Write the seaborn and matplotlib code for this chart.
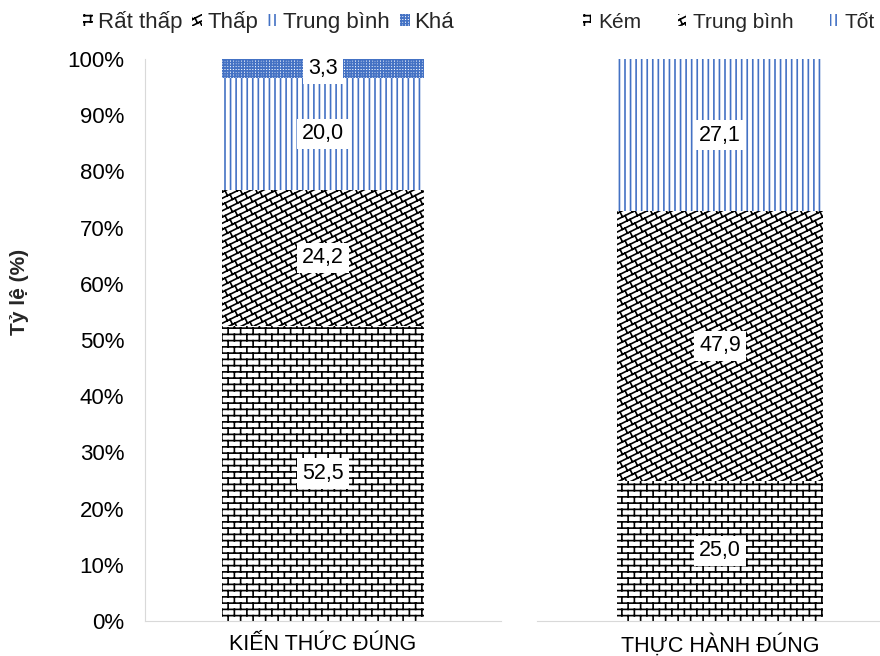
import warnings
warnings.filterwarnings('ignore')
import numpy as np
import pandas as pd
import matplotlib
matplotlib.use('Agg')
import matplotlib.pyplot as plt
import matplotlib.hatch as mhatch
from matplotlib.path import Path
from matplotlib.patches import Patch
from matplotlib.ticker import FixedLocator
import seaborn as sns

# ---------------- data ----------------
left_category = ["KIẾN THỨC ĐÚNG"]
left_levels = ["Rất thấp", "Thấp", "Trung bình", "Khá"]
left_values = [52.5, 24.2, 20.0, 3.3]

right_category = ["THỰC HÀNH ĐÚNG"]
right_levels = ["Kém", "Trung bình", "Tốt"]
right_values = [25.0, 47.9, 27.1]

y_ticks = [0, 10, 20, 30, 40, 50, 60, 70, 80, 90, 100]
y_tick_labels = ["0%", "10%", "20%", "30%", "40%", "50%", "60%", "70%", "80%", "90%", "100%"]
y_label = "Tỷ lệ (%)"


# ---------------- custom hatches (brick / diagonal brick) ----------------
class BrickHatch(mhatch.HatchPatternBase):
    def __init__(self, hatch, density):
        self.on = 'b' in hatch
        self.rows = 16
        self.cols = 8
        self.num_vertices = (2 * self.rows + 2 * (self.rows + 1) * self.cols) if self.on else 0

    def set_vertices_and_codes(self, vertices, codes):
        r, c = self.rows, self.cols
        idx = 0
        for i in range(r):
            y = (i + 0.5) / r
            vertices[idx] = (-0.1, y); codes[idx] = Path.MOVETO; idx += 1
            vertices[idx] = (1.1, y); codes[idx] = Path.LINETO; idx += 1
        for i in range(-1, r):
            y0 = (i + 0.5) / r
            y1 = (i + 1.5) / r
            off = 0.5 * (i % 2)
            for j in range(c):
                x = (j + off + 0.25) / c
                vertices[idx] = (x, y0); codes[idx] = Path.MOVETO; idx += 1
                vertices[idx] = (x, y1); codes[idx] = Path.LINETO; idx += 1


class DiagBrickHatch(mhatch.HatchPatternBase):
    def __init__(self, hatch, density):
        self.on = 'd' in hatch
        self.n = 16
        self.m = 10
        self.s = 0.5
        self.ks = list(range(-self.n, self.n + 2))
        nl = len(self.ks)
        self.num_vertices = (2 * nl + 2 * nl * (self.m + 2)) if self.on else 0

    def set_vertices_and_codes(self, vertices, codes):
        n, m, s = self.n, self.m, self.s
        a = 1.0 / (n * (1 + s * s))
        idx = 0
        for k in self.ks:
            cc = (k + 0.5) / n
            vertices[idx] = (-0.1, -0.1 * s + cc); codes[idx] = Path.MOVETO; idx += 1
            vertices[idx] = (1.1, 1.1 * s + cc); codes[idx] = Path.LINETO; idx += 1
        for k in self.ks:
            cc = (k + 0.5) / n
            off = 0.5 * (k % 2)
            for j in range(-1, m + 1):
                t = (j + off) / m
                vertices[idx] = (t, s * t + cc); codes[idx] = Path.MOVETO; idx += 1
                vertices[idx] = (t + s * a, s * t + cc - a); codes[idx] = Path.LINETO; idx += 1


mhatch._hatch_types.append(BrickHatch)
mhatch._hatch_types.append(DiagBrickHatch)

# ---------------- style ----------------
sns.set_style("white")
plt.rcParams['font.family'] = ['Liberation Sans', 'DejaVu Sans']
plt.rcParams['hatch.linewidth'] = 1.2

BLUE = "#4472C4"
GRID = "#d9d9d9"
left_styles = [("b", "black"), ("d", "black"), ("|||", BLUE), ("++++++", BLUE)]
right_styles = [("b", "black"), ("d", "black"), ("|||", BLUE)]

W, H = 880, 656
fig = plt.figure(figsize=(W / 100, H / 100), dpi=100)
ax1 = fig.add_axes([145 / W, 35 / H, 356 / W, 562 / H])
ax2 = fig.add_axes([537 / W, 35 / H, 366 / W, 562 / H])


def draw_stack(ax, category, values, styles, width):
    vals = np.array(values, dtype=float)
    cum = np.cumsum(vals)
    for i in range(len(vals) - 1, -1, -1):
        df = pd.DataFrame({"cat": category, "val": [cum[i]]})
        n0 = len(ax.patches)
        sns.barplot(data=df, x="cat", y="val", ax=ax, width=width, color="white",
                    saturation=1, errorbar=None, linewidth=0)
        for p in ax.patches[n0:]:
            p.set_facecolor("white")
            p.set_edgecolor(styles[i][1])
            p.set_hatch(styles[i][0])
            p.set_linewidth(0)
    bottoms = cum - vals
    for v, b in zip(vals, bottoms):
        ax.text(0, b + v / 2, f"{v:.1f}".replace(".", ","), ha="center", va="center",
                fontsize=15.5, color="black", zorder=5,
                bbox=dict(boxstyle="square,pad=0.22", facecolor="white", edgecolor="none"))


draw_stack(ax1, left_category, left_values, left_styles, 0.567)
draw_stack(ax2, right_category, right_values, right_styles, 0.563)

for ax in (ax1, ax2):
    ax.set_ylim(0, 100)
    ax.set_xlim(-0.5, 0.5)
    ax.set_xlabel("")
    ax.set_ylabel("")
    for s in ("top", "right"):
        ax.spines[s].set_visible(False)
    ax.spines["bottom"].set_color(GRID)
    ax.spines["left"].set_color(GRID)
    ax.tick_params(axis="x", which="major", length=0, pad=9, labelsize=15.5, labelcolor="black")
    ax.xaxis.set_minor_locator(FixedLocator([-0.5, 0.5]))
    ax.tick_params(axis="x", which="minor", length=7, color=GRID, width=1, direction="out")

ax1.set_yticks(y_ticks)
ax1.set_yticklabels(y_tick_labels)
ax1.tick_params(axis="y", length=7, color=GRID, width=1, pad=8, labelsize=16, labelcolor="black")
ax1.set_ylabel(y_label, fontsize=15, fontweight="bold")
ax1.yaxis.set_label_coords(-0.326, 0.585)

ax2.spines["left"].set_visible(False)
ax2.set_yticks([])

# legends
lh = [Patch(facecolor="white", edgecolor=c, hatch=h, linewidth=0) for h, c in left_styles]
fig.legend(lh, left_levels, loc="center", bbox_to_anchor=(268.5 / W, 1 - 22 / H), ncol=4,
           frameon=False, fontsize=16, handlelength=0.45, handleheight=0.45,
           handletextpad=0.22, columnspacing=0.45, borderpad=0, borderaxespad=0)
rh = [Patch(facecolor="white", edgecolor=c, hatch=h, linewidth=0) for h, c in right_styles]
fig.legend(rh, right_levels, loc="center", bbox_to_anchor=(729 / W, 1 - 22 / H), ncol=3,
           frameon=False, fontsize=15, handlelength=0.38, handleheight=0.45,
           handletextpad=0.34, columnspacing=1.75, borderpad=0, borderaxespad=0)

fig.savefig("out.png", dpi=100)
